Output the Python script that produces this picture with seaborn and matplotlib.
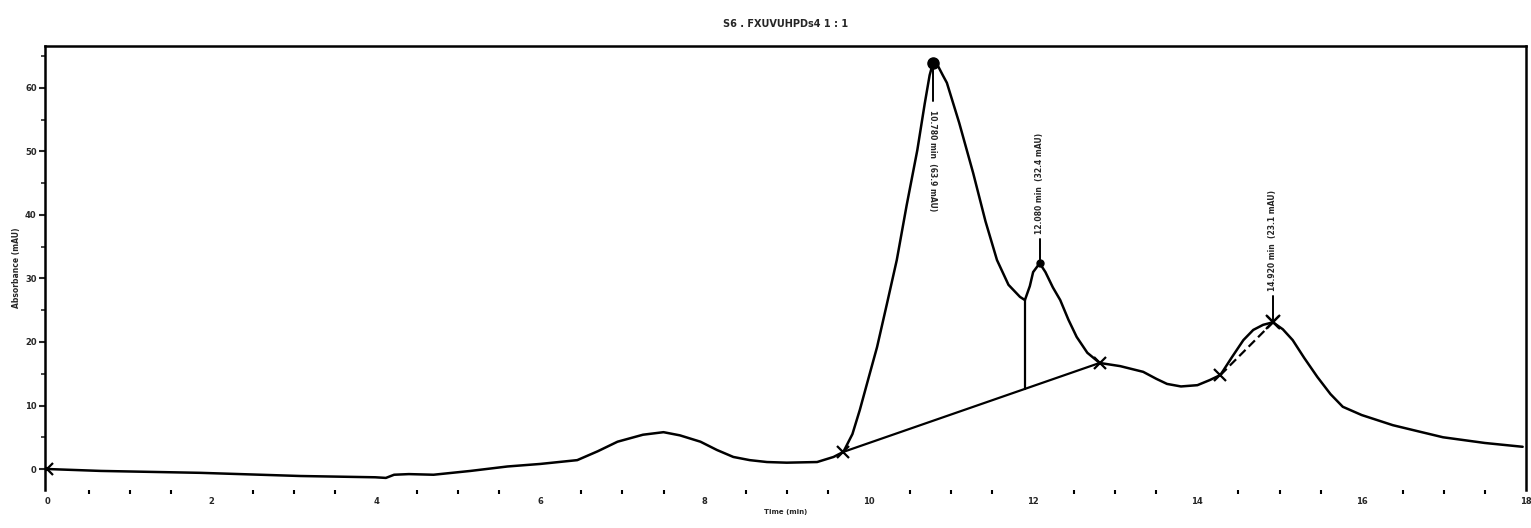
import numpy as np
import pandas as pd
import matplotlib
matplotlib.use("Agg")
import matplotlib.pyplot as plt
import seaborn as sns

# Detector trace (time in min, signal in mAU)
time_min = [0.0, 0.65, 1.86, 3.08, 3.99, 4.12, 4.22, 4.40, 4.70, 5.15, 5.60,
            6.00, 6.45, 6.70, 6.94, 7.25, 7.50, 7.70, 7.95, 8.15, 8.35, 8.55,
            8.76, 9.00, 9.37, 9.57, 9.69, 9.80, 9.89, 10.00, 10.10, 10.22, 10.34,
            10.46, 10.59, 10.68, 10.74, 10.78, 10.84, 10.90, 10.95, 11.10, 11.27,
            11.42, 11.56, 11.70, 11.84, 11.90, 11.96, 12.00, 12.08, 12.15, 12.24,
            12.33, 12.43, 12.53, 12.66, 12.81, 13.06, 13.34, 13.50, 13.63, 13.80,
            14.00, 14.15, 14.28, 14.42, 14.56, 14.68, 14.80, 14.92, 15.04, 15.16,
            15.30, 15.46, 15.62, 15.77, 16.00, 16.38, 16.70, 16.99, 17.50, 17.96]
signal_mau = [0.0, -0.3, -0.6, -1.1, -1.3, -1.4, -0.9, -0.8, -0.9, -0.3, 0.4,
              0.8, 1.4, 2.8, 4.3, 5.4, 5.8, 5.3, 4.3, 3.0, 1.9, 1.4,
              1.1, 1.0, 1.1, 1.9, 2.7, 5.5, 9.3, 14.5, 19.2, 26.0, 32.9,
              41.5, 50.2, 57.5, 62.0, 63.9, 63.5, 62.0, 60.8, 54.5, 46.6,
              39.0, 32.9, 29.0, 27.1, 26.6, 28.8, 31.0, 32.4, 31.0, 28.6,
              26.6, 23.5, 20.8, 18.3, 16.7, 16.2, 15.3, 14.2, 13.4, 13.0,
              13.2, 14.0, 14.8, 17.6, 20.3, 21.9, 22.7, 23.1, 22.0, 20.3,
              17.5, 14.5, 11.8, 9.8, 8.5, 6.9, 5.9, 5.0, 4.1, 3.5]

# Integrated peaks
peak_time = [10.78, 12.08, 14.92]
peak_height = [63.9, 32.4, 23.1]
peak_label = [f"{t:.3f} min  ({h:.1f} mAU)" for t, h in zip(peak_time, peak_height)]

# Baseline segments (start/end of integration)
base1_t = [9.69, 12.81]
base1_v = [2.7, 16.7]
base2_t = [14.28, 14.92]
base2_v = [14.8, 23.1]
valley_t = 11.90
valley_v = 26.6

title_text = "S6 . FXUVUHPDs4 1 : 1"
x_label = "Time (min)"
y_label = "Absorbance (mAU)"

sns.set_style("white")
plt.rcParams["font.family"] = ["DejaVu Sans"]

fig = plt.figure(figsize=(15.31, 5.28), dpi=100)
ax = fig.add_axes([0.0294, 0.072, 0.9673, 0.8409])

df = pd.DataFrame({"t": time_min, "v": signal_mau})
sns.lineplot(data=df, x="t", y="v", ax=ax, color="black", linewidth=1.8, sort=False)

# baselines
ax.plot(base1_t, base1_v, color="black", linewidth=1.6)
ax.plot(base2_t, base2_v, color="black", linewidth=1.6, linestyle=(0, (4, 2)))
ax.plot(base1_t + base2_t, base1_v + base2_v, "x", color="black",
        markersize=9, markeredgewidth=1.6)
ax.plot([time_min[0]], [signal_mau[0]], "x", color="black", markersize=9, markeredgewidth=1.6)

# drop line between the first two peaks
drop_base = np.interp(valley_t, base1_t, base1_v)
ax.plot([valley_t, valley_t], [drop_base, valley_v], color="black", linewidth=1.6)

# apex markers, leader lines and labels
ax.plot(peak_time[0], peak_height[0], "o", color="black", markersize=8)
ax.plot(peak_time[1], peak_height[1], "o", color="black", markersize=5)
ax.plot(peak_time[2], peak_height[2], "x", color="black", markersize=10, markeredgewidth=1.6)

label_top = [56.5, 53.5, 43.5]
label_bottom = [38.4, 37.0, 28.0]
for i, (t, h) in enumerate(zip(peak_time, peak_height)):
    if i == 0:
        ax.plot([t, t], [h, label_top[i] + 1.5], color="black", linewidth=1.4)
        ax.text(t, label_top[i], peak_label[i], rotation=-90, ha="center", va="top",
                fontsize=5.5, fontweight="bold")
    else:
        ax.plot([t, t], [h, label_bottom[i] - 0.8], color="black", linewidth=1.4)
        ax.text(t, label_bottom[i], peak_label[i], rotation=90, ha="center", va="bottom",
                fontsize=5.5, fontweight="bold")

ax.set_xlim(-0.03, 18.0)
ax.set_ylim(-3.3, 66.6)

ax.set_xticks(np.arange(0, 18.01, 2))
ax.set_xticks(np.arange(0, 18.01, 0.5), minor=True)
ax.set_yticks(np.arange(0, 61, 10))
ax.set_yticks(np.arange(0, 66, 5), minor=True)
ax.tick_params(axis="x", which="major", length=0, pad=5, labelsize=6)
ax.tick_params(axis="x", which="minor", length=3, width=1.5, direction="out", color="black")
ax.tick_params(axis="y", which="major", length=4, width=1.5, direction="out", labelsize=6, pad=2)
ax.tick_params(axis="y", which="minor", length=3, width=1.2, direction="out")
ax.tick_params(bottom=True, left=True, which="both")
for lbl in ax.get_xticklabels() + ax.get_yticklabels():
    lbl.set_fontweight("bold")

for side in ["left", "top", "right"]:
    ax.spines[side].set_visible(True)
    ax.spines[side].set_color("black")
    ax.spines[side].set_linewidth(1.8)
ax.spines["bottom"].set_visible(False)

ax.set_xlabel(x_label, fontsize=5, fontweight="bold", labelpad=2)
ax.set_ylabel(y_label, fontsize=5.5, fontweight="bold", labelpad=3)
ax.set_title(title_text, fontsize=7, fontweight="bold", pad=14)

fig.savefig("out.png", dpi=100, facecolor="white")
